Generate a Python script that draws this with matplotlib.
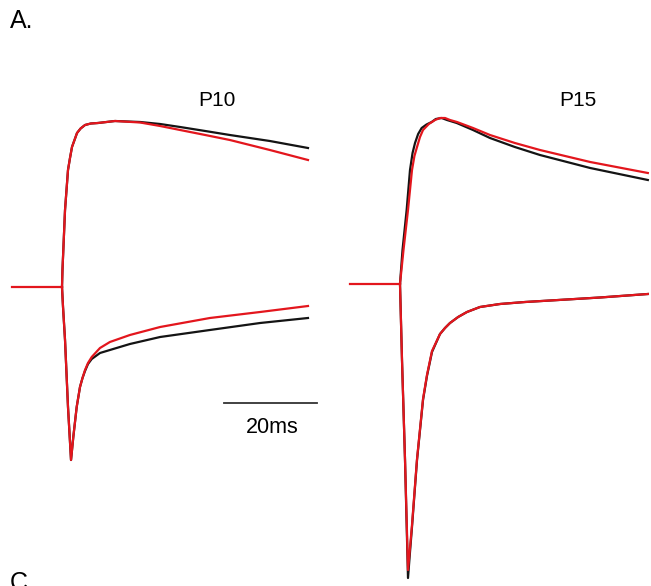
import numpy as np
import matplotlib.pyplot as plt

plt.rcParams['font.family'] = ['Liberation Sans', 'DejaVu Sans']

# time in ms from stimulus onset, current in arbitrary units (baseline = 0)
p10_base_t = [-10.8, 0.0]
p10_base_v = [0, 0]

p10_out_t = [0.0, 0.1, 0.65, 1.29, 1.72, 2.15, 2.69, 3.23, 4.0, 4.95, 6.2, 7.74, 11.4, 16.8,
             21.1, 25.4, 30.8, 36.1, 44.7, 52.9]
p10_out_black = [0, 17, 77, 117, 129, 140, 147, 154, 158.5, 162, 163.5, 164, 166, 165,
                 163, 160, 156, 152, 146, 139]
p10_out_red = [0, 17, 77, 117, 129, 140, 147, 154, 158.5, 162, 163.5, 164, 166, 164.5,
               161, 157, 152, 147, 137, 127]

p10_in_t = [0.0, 0.22, 0.65, 1.29, 1.94, 2.43, 3.16, 3.87, 4.41, 4.95, 5.59, 6.39, 8.17, 10.3,
            14.6, 21.1, 31.8, 42.6, 52.9]
p10_in_black = [0, -20, -53, -120, -173, -150, -120, -100, -91, -84, -77, -72, -66, -63,
                -57, -50, -43, -36, -31]
p10_in_red = [0, -20, -53, -120, -173, -150, -120, -100, -91, -83, -76, -70, -61, -55,
              -48, -40, -31, -25, -19]

p15_base_t = [-10.75, 0.0]
p15_base_v = [0, 0]

p15_out_black_t = [0.0, 0.54, 1.43, 2.15, 2.7, 3.23, 3.9, 4.66, 5.7, 6.81, 7.7, 8.96, 10.1,
                   12.2, 15.7, 19.35, 24.7, 30.1, 40.9, 53.3]
p15_out_black = [0, 34, 74, 114, 131, 141, 150, 156, 159.5, 162, 165, 166, 164,
                 161, 154, 146, 137, 129, 116, 104]
p15_out_red_t = [0.0, 0.75, 1.72, 2.58, 3.1, 3.66, 4.3, 4.95, 6.2, 7.53, 8.6, 9.68, 10.75,
                 12.26, 15.7, 19.35, 24.7, 30.1, 40.9, 53.3]
p15_out_red = [0, 34, 74, 114, 128, 137, 147, 154, 160, 164, 166, 166, 164,
               162, 156, 149, 141, 134, 122, 111]

p15_in_t = [0.0, 0.43, 1.08, 1.72, 2.15, 2.58, 3.66, 4.95, 5.8, 6.88, 8.6, 9.68, 10.75, 12.5,
            14.4, 17.2, 21.5, 26.9, 32.3, 43.0, 53.3]
p15_in_black = [0, -76, -176, -294, -268, -243, -176, -116, -92, -68, -50, -44, -39, -33,
                -28, -23, -20, -18, -16.5, -13.5, -10]
p15_in_red = [0, -76, -176, -286, -264, -241, -175, -115, -91, -67, -50, -44, -39, -33,
              -28, -23, -20, -18, -16.5, -13.5, -10]

scale_ms = 20

RED = '#e3161d'
BLACK = '#141414'
LW = 1.6

fig = plt.figure(figsize=(6.51, 5.86), dpi=100)
W, H = 651, 586
PX_MS = 4.65

def panel(x0, x1, t0_px, base_px):
    ax = fig.add_axes([x0 / W, 0, (x1 - x0) / W, 1])
    ax.set_xlim((x0 - t0_px) / PX_MS, (x1 - t0_px) / PX_MS)
    ax.set_ylim(base_px - H, base_px)
    ax.axis('off')
    return ax

ax1 = panel(0, 340, 62, 287)
ax1.plot(p10_out_t, p10_out_black, color=BLACK, lw=LW)
ax1.plot(p10_in_t, p10_in_black, color=BLACK, lw=LW)
ax1.plot(p10_out_t, p10_out_red, color=RED, lw=LW)
ax1.plot(p10_in_t, p10_in_red, color=RED, lw=LW)
ax1.plot(p10_base_t, p10_base_v, color=RED, lw=LW)
# scale bar
sb_t, sb_v = 34.8, -116
ax1.plot([sb_t, sb_t + scale_ms], [sb_v, sb_v], color='#333333', lw=1.3)
ax1.text(sb_t + scale_ms / 2 + 0.4, sb_v - 14, '%dms' % scale_ms, ha='center', va='top', fontsize=15.5)

ax2 = panel(340, 651, 400, 284)
ax2.plot(p15_out_black_t, p15_out_black, color=BLACK, lw=LW)
ax2.plot(p15_in_t, p15_in_black, color=BLACK, lw=LW)
ax2.plot(p15_out_red_t, p15_out_red, color=RED, lw=LW)
ax2.plot(p15_in_t, p15_in_red, color=RED, lw=LW)
ax2.plot(p15_base_t, p15_base_v, color=RED, lw=LW)

fig.text(217 / W, 1 - 100 / H, 'P10', ha='center', va='center', fontsize=15)
fig.text(578 / W, 1 - 100 / H, 'P15', ha='center', va='center', fontsize=15)
fig.text(10 / W, 1 - 21 / H, 'A.', ha='left', va='center', fontsize=18)
fig.text(10 / W, 1 - 571 / H, 'C.', ha='left', va='top', fontsize=18)

fig.savefig('out.png', dpi=100)
